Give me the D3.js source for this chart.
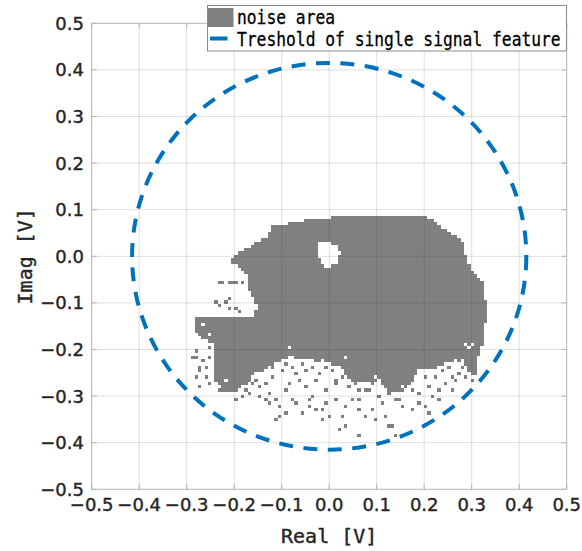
<!DOCTYPE html>
<html>
<head>
<meta charset="utf-8">
<script src="https://cdn.jsdelivr.net/npm/d3@7"></script>
<style>
  body { margin: 0; background: #fff; }
  svg { display: block; }
</style>
</head>
<body>
<svg width="582" height="551"></svg>
<script>
// axis ticks (both axes share them)
const tickValues = [-0.5, -0.4, -0.3, -0.2, -0.1, 0.0, 0.1, 0.2, 0.3, 0.4, 0.5];
const xLabel = "Real [V]";
const yLabel = "Imag [V]";
const legendLabels = ["noise area", "Treshold of single signal feature"];

// threshold circle radius [V]
const thresholdRadius = 0.415;

// size of one noise-map cell [V]
const cellSize = 0.007;

// outline of the main noise area [real, imag]
const noiseOutline = [
  [-0.121, 0.064], [-0.104, 0.067], [-0.068, 0.074], [-0.026, 0.082], [0.054, 0.088],
  [0.205, 0.088], [0.226, 0.071], [0.247, 0.056], [0.265, 0.044], [0.282, 0.028],
  [0.289, -0.008], [0.303, -0.036], [0.324, -0.058], [0.328, -0.087], [0.332, -0.130],
  [0.326, -0.158], [0.322, -0.190], [0.313, -0.223], [0.309, -0.259], [0.296, -0.255],
  [0.282, -0.223], [0.248, -0.229], [0.219, -0.244], [0.191, -0.238], [0.176, -0.272],
  [0.149, -0.293], [0.122, -0.287], [0.107, -0.265], [0.080, -0.272], [0.050, -0.270],
  [0.023, -0.238], [-0.013, -0.227], [-0.083, -0.216], [-0.104, -0.227], [-0.152, -0.248],
  [-0.173, -0.272], [-0.194, -0.287], [-0.236, -0.293], [-0.245, -0.186], [-0.262, -0.180],
  [-0.280, -0.165], [-0.283, -0.132], [-0.163, -0.128], [-0.146, -0.115], [-0.173, -0.062],
  [-0.171, -0.049], [-0.173, -0.040], [-0.198, -0.019], [-0.209, -0.008], [-0.192, 0.009],
  [-0.167, 0.020], [-0.152, 0.030], [-0.129, 0.041]
];

// hole inside the noise area
const noiseHole = [
  [-0.024, 0.029], [-0.003, 0.033], [0.014, 0.024], [0.023, 0.007],
  [0.017, -0.012], [0.002, -0.025], [-0.015, -0.019], [-0.024, 0.003]
];

// single empty cells inside the area
const noiseGaps = [
  [-0.086, -0.194], [0.037, -0.219], [0.289, -0.190], [0.296, -0.197], [0.303, -0.190],
  [-0.265, -0.150], [-0.251, -0.165], [-0.272, -0.172], [-0.012, -0.223], [0.156, -0.280],
  [-0.230, -0.280], [-0.216, -0.266], [0.100, -0.258], [0.268, -0.227]
];

// isolated noise cells
const noiseDots = [
  [-0.230, -0.054], [-0.223, -0.054], [-0.209, -0.054], [-0.202, -0.054], [-0.195, -0.054],
  [-0.181, -0.054], [-0.170, -0.072], [-0.160, -0.072], [-0.149, -0.072], [-0.128, -0.078],
  [-0.237, -0.097], [-0.219, -0.101], [-0.209, -0.094], [-0.230, -0.108], [-0.209, -0.112],
  [-0.195, -0.109], [-0.188, -0.121], [-0.153, -0.117],
  [-0.279, -0.219], [-0.265, -0.223], [-0.251, -0.215], [-0.272, -0.237], [-0.258, -0.237],
  [-0.279, -0.262], [-0.261, -0.258], [-0.251, -0.273], [-0.272, -0.280], [-0.283, -0.201],
  [-0.255, -0.197], [-0.276, -0.248], [-0.287, -0.216],
  [-0.198, -0.305], [-0.174, -0.287], [-0.163, -0.276], [-0.153, -0.265], [-0.146, -0.283],
  [-0.135, -0.273], [-0.125, -0.291], [-0.132, -0.308], [-0.111, -0.308], [-0.107, -0.323],
  [-0.104, -0.341], [-0.111, -0.348], [-0.093, -0.333], [-0.089, -0.287], [-0.086, -0.276],
  [-0.076, -0.305], [-0.065, -0.265], [-0.058, -0.337], [-0.051, -0.283], [-0.044, -0.308],
  [-0.037, -0.301], [-0.030, -0.265], [-0.026, -0.330], [-0.016, -0.330], [-0.012, -0.348],
  [-0.005, -0.287], [0.002, -0.344], [0.012, -0.265], [0.016, -0.305], [0.023, -0.369],
  [0.033, -0.366], [0.030, -0.344], [0.051, -0.308], [0.061, -0.326], [0.061, -0.305],
  [0.065, -0.387], [0.075, -0.287], [0.093, -0.330], [0.096, -0.348], [0.107, -0.298],
  [0.117, -0.344], [0.124, -0.362], [0.132, -0.366], [0.139, -0.387], [0.149, -0.305],
  [0.163, -0.283], [0.177, -0.330], [0.188, -0.294], [0.202, -0.323], [0.209, -0.333],
  [0.219, -0.301], [0.233, -0.308], [0.247, -0.276], [0.258, -0.258], [0.275, -0.255],
  [0.296, -0.240], [0.303, -0.265],
  [-0.180, -0.262], [-0.160, -0.255], [-0.139, -0.248], [-0.118, -0.241], [-0.118, -0.262],
  [-0.097, -0.248], [-0.090, -0.234], [-0.076, -0.241], [-0.069, -0.255], [-0.055, -0.234],
  [-0.048, -0.248], [-0.034, -0.241], [-0.020, -0.255], [-0.006, -0.241], [0.008, -0.248],
  [0.015, -0.276], [0.029, -0.262], [0.043, -0.283], [0.057, -0.276], [0.064, -0.290],
  [0.085, -0.290], [0.092, -0.276], [0.113, -0.276], [0.127, -0.297], [0.141, -0.311],
  [0.162, -0.262], [0.176, -0.290], [0.183, -0.255], [0.204, -0.262], [0.211, -0.283],
  [0.225, -0.262], [0.239, -0.248], [0.253, -0.241], [0.267, -0.269], [0.281, -0.241],
  [0.288, -0.262], [0.260, -0.290], [0.232, -0.290], [0.190, -0.316], [0.155, -0.325],
  [0.110, -0.318], [0.078, -0.345], [0.036, -0.325], [-0.006, -0.318], [-0.041, -0.325],
  [-0.069, -0.318], [-0.125, -0.318], [-0.146, -0.304], [-0.167, -0.297], [-0.183, -0.300],
  [0.318, -0.213], [0.311, -0.234], [0.290, -0.220]
];

const svg = d3.select("svg");
const font = "'DejaVu Sans', sans-serif";
const monoFont = "'DejaVu Sans Mono', monospace";
const axisColor = "#b4b4b4";
const textColor = "#262626";

const x = d3.scaleLinear().domain([-0.5, 0.5]).range([91.7, 566.7]);
const y = d3.scaleLinear().domain([-0.5, 0.5]).range([489.3, 23.3]);

// --- noise area, drawn as grid cells (one rect per horizontal run) ---
const cellKey = (i, j) => i + "," + j;
const gapSet = new Set(noiseGaps.map(d => cellKey(Math.round(d[0] / cellSize), Math.round(d[1] / cellSize))));
const i0 = Math.floor(d3.min(noiseOutline, d => d[0]) / cellSize) - 1;
const i1 = Math.ceil(d3.max(noiseOutline, d => d[0]) / cellSize) + 1;
const j0 = Math.floor(d3.min(noiseOutline, d => d[1]) / cellSize) - 1;
const j1 = Math.ceil(d3.max(noiseOutline, d => d[1]) / cellSize) + 1;

const runs = [];
for (let j = j0; j <= j1; j++) {
  let start = null;
  for (let i = i0; i <= i1 + 1; i++) {
    const p = [i * cellSize, j * cellSize];
    const inside = i <= i1 && d3.polygonContains(noiseOutline, p) &&
      !d3.polygonContains(noiseHole, p) && !gapSet.has(cellKey(i, j));
    if (inside && start === null) start = i;
    if (!inside && start !== null) { runs.push({ j, a: start, b: i - 1 }); start = null; }
  }
}
noiseDots.forEach(d => {
  const i = Math.round(d[0] / cellSize), j = Math.round(d[1] / cellSize);
  runs.push({ j, a: i, b: i });
});

const noiseG = svg.append("g").attr("shape-rendering", "crispEdges");
noiseG.selectAll("rect")
  .data(runs)
  .join("rect")
  .attr("x", d => x((d.a - 0.5) * cellSize))
  .attr("width", d => x((d.b + 0.5) * cellSize) - x((d.a - 0.5) * cellSize))
  .attr("y", d => y((d.j + 0.5) * cellSize))
  .attr("height", d => y((d.j - 0.5) * cellSize) - y((d.j + 0.5) * cellSize))
  .attr("fill", "#808080");

// --- grid (on top, like MATLAB) ---
const inner = tickValues.slice(1, -1);
svg.append("g").selectAll("line.gx")
  .data(inner).join("line")
  .attr("x1", d => x(d)).attr("x2", d => x(d))
  .attr("y1", y(-0.5)).attr("y2", y(0.5))
  .attr("stroke", "#262626").attr("stroke-opacity", 0.15);
svg.append("g").selectAll("line.gy")
  .data(inner).join("line")
  .attr("y1", d => y(d)).attr("y2", d => y(d))
  .attr("x1", x(-0.5)).attr("x2", x(0.5))
  .attr("stroke", "#262626").attr("stroke-opacity", 0.15);

// --- threshold circle ---
svg.append("ellipse")
  .attr("cx", x(0)).attr("cy", y(0))
  .attr("rx", x(thresholdRadius) - x(0))
  .attr("ry", y(0) - y(thresholdRadius))
  .attr("fill", "none")
  .attr("stroke", "#0072BD")
  .attr("stroke-width", 4)
  .attr("stroke-dasharray", "14,10.5");

// --- axes box and ticks ---
svg.append("rect")
  .attr("x", x(-0.5)).attr("y", y(0.5))
  .attr("width", x(0.5) - x(-0.5)).attr("height", y(-0.5) - y(0.5))
  .attr("fill", "none").attr("stroke", axisColor);

const tickLen = 5;
const ticksG = svg.append("g").attr("stroke", axisColor);
tickValues.forEach(v => {
  ticksG.append("line").attr("x1", x(v)).attr("x2", x(v)).attr("y1", y(-0.5)).attr("y2", y(-0.5) - tickLen);
  ticksG.append("line").attr("x1", x(v)).attr("x2", x(v)).attr("y1", y(0.5)).attr("y2", y(0.5) + tickLen);
  ticksG.append("line").attr("y1", y(v)).attr("y2", y(v)).attr("x1", x(-0.5)).attr("x2", x(-0.5) + tickLen);
  ticksG.append("line").attr("y1", y(v)).attr("y2", y(v)).attr("x1", x(0.5)).attr("x2", x(0.5) - tickLen);
});

const fmt = d3.format(".1f");
const styleText = sel => sel
  .attr("fill", textColor)
  .attr("stroke", textColor)
  .attr("stroke-width", 0.4);

svg.append("g").selectAll("text")
  .data(tickValues).join("text")
  .attr("x", d => x(d))
  .attr("y", 511)
  .attr("text-anchor", "middle")
  .attr("font-family", font).attr("font-size", 18)
  .call(styleText)
  .text(d => fmt(d));

svg.append("g").selectAll("text")
  .data(tickValues).join("text")
  .attr("x", 84)
  .attr("y", d => y(d) + 6.5)
  .attr("text-anchor", "end")
  .attr("font-family", font).attr("font-size", 18)
  .call(styleText)
  .text(d => fmt(d));

svg.append("text")
  .attr("x", (x(-0.5) + x(0.5)) / 2).attr("y", 543)
  .attr("text-anchor", "middle")
  .attr("font-family", monoFont).attr("font-size", 20)
  .call(styleText)
  .text(xLabel);

svg.append("text")
  .attr("transform", `translate(32, ${(y(-0.5) + y(0.5)) / 2}) rotate(-90)`)
  .attr("text-anchor", "middle")
  .attr("font-family", monoFont).attr("font-size", 20)
  .call(styleText)
  .text(yLabel);

// --- legend ---
const lg = svg.append("g");
lg.append("rect")
  .attr("x", 207.5).attr("y", 5.5).attr("width", 359).attr("height", 45.5)
  .attr("fill", "#fff").attr("stroke", "#8a8a8a");
lg.append("rect")
  .attr("x", 208).attr("y", 8).attr("width", 25.5).attr("height", 19)
  .attr("fill", "#808080");
lg.append("line")
  .attr("x1", 210).attr("x2", 227.5).attr("y1", 38.5).attr("y2", 38.5)
  .attr("stroke", "#0072BD").attr("stroke-width", 4);
lg.selectAll("text.leg")
  .data(legendLabels).join("text")
  .attr("transform", (d, i) => `translate(237, ${24 + i * 22}) scale(0.815, 1)`)
  .attr("font-family", monoFont).attr("font-size", 20)
  .attr("fill", "#000").attr("stroke", "#000").attr("stroke-width", 0.3)
  .text(d => d);
</script>
</body>
</html>
